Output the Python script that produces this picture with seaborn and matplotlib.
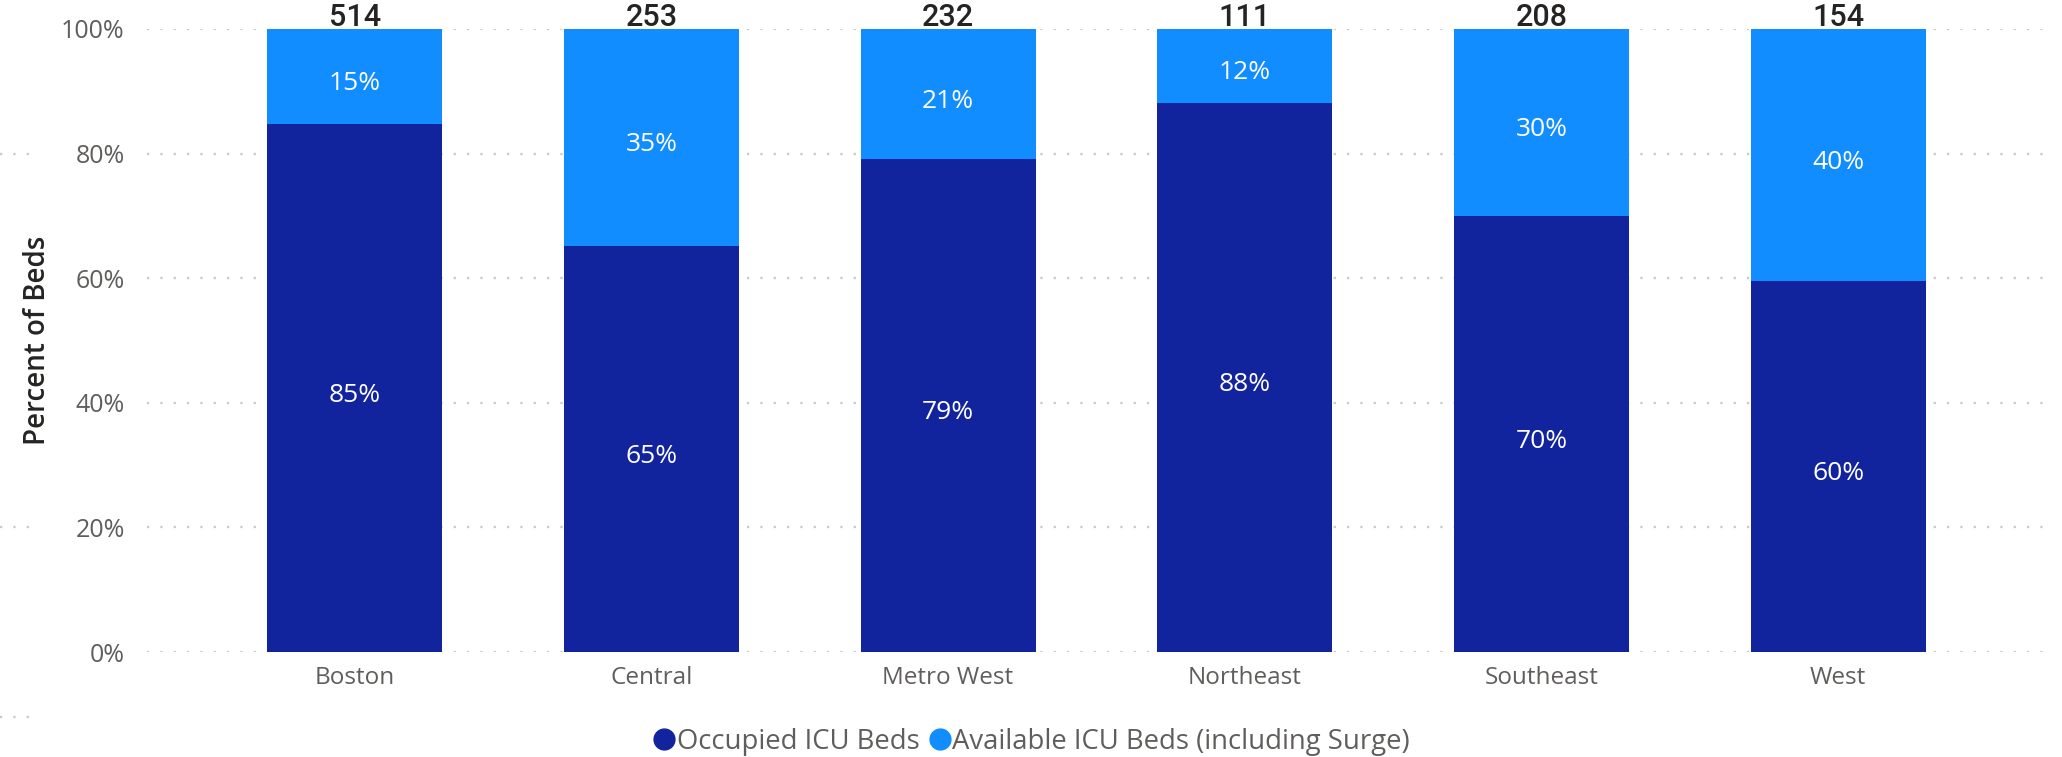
import matplotlib
matplotlib.use("Agg")
import matplotlib.pyplot as plt
import matplotlib.transforms as mtransforms
from matplotlib.lines import Line2D
import seaborn as sns
import pandas as pd

regions = ["Boston", "Central", "Metro West", "Northeast", "Southeast", "West"]
occupied_pct = [84.8, 65.2, 79.1, 88.2, 70.0, 59.6]
available_pct = [15.2, 34.8, 20.9, 11.8, 30.0, 40.4]
occupied_labels = ["85%", "65%", "79%", "88%", "70%", "60%"]
available_labels = ["15%", "35%", "21%", "12%", "30%", "40%"]
totals = [514, 253, 232, 111, 208, 154]
y_ticks = [0, 20, 40, 60, 80, 100]
y_tick_labels = ["0%", "20%", "40%", "60%", "80%", "100%"]
series_names = ["Occupied ICU Beds", "Available ICU Beds (including Surge)"]

DARK = "#12239E"
LIGHT = "#118DFF"
GRID = "#C8C8C8"
TXT = "#605E5C"

sns.set_theme(style="white")
plt.rcParams["font.family"] = ["Open Sans", "DejaVu Sans"]

df = pd.DataFrame({
    "region": regions,
    "occupied": occupied_pct,
    "stack_top": [o + a for o, a in zip(occupied_pct, available_pct)],
})

fig = plt.figure(figsize=(20.62, 7.57), dpi=100)
ax = fig.add_axes([0.0713, 0.1387, 0.9237, 0.823])

sns.barplot(data=df, x="region", y="stack_top", color=LIGHT, width=0.59,
            saturation=1, linewidth=0, ax=ax, zorder=2)
sns.barplot(data=df, x="region", y="occupied", color=DARK, width=0.59,
            saturation=1, linewidth=0, ax=ax, zorder=3)

ax.set_ylim(0, 100)
ax.set_xlim(-0.70, 5.72)
ax.set_yticks(y_ticks)
ax.set_yticklabels(y_tick_labels)
ax.yaxis.grid(True, color=GRID, linestyle=(0, (1, 5)), linewidth=1.6, zorder=0)
ax.xaxis.grid(False)
ax.set_axisbelow(True)
for s in ax.spines.values():
    s.set_visible(False)
ax.tick_params(axis="y", length=0, pad=16, labelsize=18, labelcolor=TXT)
ax.tick_params(axis="x", length=0, pad=10, labelsize=17.5, labelcolor=TXT)
ax.set_xlabel("")
ax.set_ylabel("Percent of Beds", fontsize=20, color="#252423", fontweight="semibold")
ax.yaxis.set_label_coords(-0.05, 0.5)

for i, (o, a) in enumerate(zip(occupied_pct, available_pct)):
    ax.annotate(occupied_labels[i], (i, o / 2), xytext=(0, -3),
                textcoords="offset points", ha="center", va="center_baseline",
                color="white", fontsize=19, zorder=5)
    ax.annotate(available_labels[i], (i, o + a / 2), xytext=(0, -3),
                textcoords="offset points", ha="center", va="center_baseline",
                color="white", fontsize=19, zorder=5)
    ax.text(i, o + a + 0.5, str(totals[i]), ha="center", va="baseline",
            color="#252423", fontsize=22, fontweight="medium",
            family=["Roboto", "DejaVu Sans"])

# stray gridline fragments at the left edge
btrans = mtransforms.blended_transform_factory(fig.transFigure, ax.transData)
for yv in [80, 20]:
    fig.add_artist(Line2D([0.0, 0.018], [yv, yv], transform=btrans, color=GRID,
                          linestyle=(0, (1, 5)), linewidth=1.6))
fig.add_artist(Line2D([0.0, 0.018], [0.053, 0.053], transform=fig.transFigure,
                      color=GRID, linestyle=(0, (1, 5)), linewidth=1.6))

handles = [Line2D([0], [0], marker="o", linestyle="", markersize=15,
                  markerfacecolor=c, markeredgecolor=c)
           for c in [DARK, LIGHT]]
leg = fig.legend(handles, series_names, loc="center", bbox_to_anchor=(0.5, 0.02),
                 ncol=2, frameon=False, fontsize=19.8, handletextpad=0.0,
                 columnspacing=0.3, handlelength=0.9, borderaxespad=0)
for t in leg.get_texts():
    t.set_color(TXT)

fig.savefig("out.png", dpi=100)
